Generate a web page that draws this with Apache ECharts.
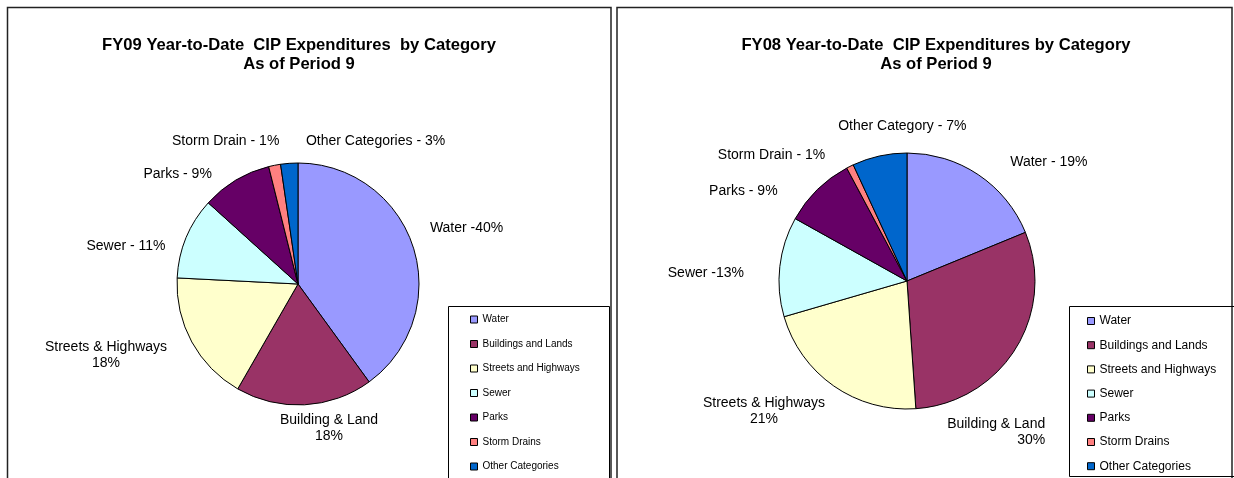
<!DOCTYPE html>
<html>
<head>
<meta charset="utf-8">
<script src="https://cdn.jsdelivr.net/npm/echarts@6.0.0/dist/echarts.min.js"></script>
<style>
html,body{margin:0;padding:0;background:#fff}
#chart{width:1234px;height:478px}
</style>
</head>
<body>
<div id="chart"></div>
<script>
var categories = ['Water', 'Buildings and Lands', 'Streets and Highways', 'Sewer', 'Parks', 'Storm Drains', 'Other Categories'];
var colors = ['#9999FF', '#993366', '#FFFFCC', '#CCFFFF', '#660066', '#FF8080', '#0066CC'];

var fy09Values = [40, 18.3, 17.5, 10.9, 9.4, 1.6, 2.3];
var fy09Labels = ['Water -40%', 'Building & Land\n18%', 'Streets & Highways\n18%', 'Sewer - 11%', 'Parks - 9%', 'Storm Drain - 1%', 'Other Categories - 3%'];

var fy08Values = [18.8, 30.1, 21.6, 12.6, 9.1, 0.9, 6.9];
var fy08Labels = ['Water - 19%', 'Building & Land\n30%', 'Streets & Highways\n21%', 'Sewer -13%', 'Parks - 9%', 'Storm Drain - 1%', 'Other Category - 7%'];

// nudges applied to the library's outside label spot (Excel puts them a bit differently)
var fy09Shift = [[44, -15], [24, 13], [-77, 8], [-51, 12], [-53, 2], [-47, -14], [87, -12]];
var fy08Shift = [[65, -4], [21, 78], [-64, 17], [-64, 8], [-67, 9], [-74, -2], [25, -20]];
var fy08Align = ['center', 'right', 'center', 'center', 'center', 'center', 'center'];

var font = '"Liberation Sans", Arial, sans-serif';

function pieData(values) {
    return values.map(function (v, i) {
        return {name: categories[i], value: v, itemStyle: {color: colors[i]}};
    });
}

function pieSeries(values, labels, shift, align, center, radius) {
    return {
        type: 'pie',
        center: center,
        radius: radius,
        startAngle: 90,
        clockwise: true,
        avoidLabelOverlap: false,
        animation: false,
        emphasis: {disabled: true},
        data: pieData(values),
        itemStyle: {borderColor: '#000', borderWidth: 1},
        label: {
            show: true,
            position: 'outside',
            distanceToLabelLine: 0,
            color: '#000',
            fontFamily: font,
            fontSize: 14,
            lineHeight: 16,
            formatter: function (p) { return labels[p.dataIndex]; }
        },
        labelLine: {show: false, length: 10, length2: 0},
        labelLayout: function (p) {
            var s = shift[p.dataIndex];
            return {dx: s[0], dy: s[1], align: align ? align[p.dataIndex] : 'center', verticalAlign: 'middle'};
        }
    };
}

function legend(left, top, gap, size) {
    return {
        orient: 'vertical',
        left: left,
        top: top,
        padding: 0,
        icon: 'rect',
        itemWidth: 7,
        itemHeight: 7,
        itemGap: gap,
        data: categories,
        selectedMode: false,
        itemStyle: {borderColor: '#000', borderWidth: 1},
        textStyle: {color: '#000', fontFamily: font, fontSize: size, lineHeight: 14}
    };
}

var titleStyle = {fontFamily: font, fontSize: 16.6, fontWeight: 'bold', color: '#000', lineHeight: 19};

var chart = echarts.init(document.getElementById('chart'));
chart.setOption({
    backgroundColor: '#fff',
    animation: false,
    title: [
        {
            text: 'FY09 Year-to-Date  CIP Expenditures  by Category\nAs of Period 9',
            left: 294, top: 31, textAlign: 'center',
            textStyle: titleStyle
        },
        {
            text: 'FY08 Year-to-Date  CIP Expenditures by Category\nAs of Period 9',
            left: 931, top: 31, textAlign: 'center',
            textStyle: titleStyle
        }
    ],
    legend: [
        legend(470, 312.5, 10.5, 10),
        legend(1087, 314, 10.2, 12)
    ],
    graphic: [
        {type: 'rect', shape: {x: 7.5, y: 7.5, width: 603.5, height: 500}, style: {fill: 'none', stroke: '#222', lineWidth: 1.5}, z: 100},
        {type: 'rect', shape: {x: 617, y: 7.5, width: 615, height: 500}, style: {fill: 'none', stroke: '#222', lineWidth: 1.5}, z: 100},
        {type: 'rect', shape: {x: 448.5, y: 306.5, width: 161, height: 200}, style: {fill: 'none', stroke: '#000', lineWidth: 1}, z: 100},
        {type: 'rect', shape: {x: 1069.5, y: 306.5, width: 170, height: 170}, style: {fill: 'none', stroke: '#000', lineWidth: 1}, z: 100}
    ],
    series: [
        pieSeries(fy09Values, fy09Labels, fy09Shift, null, [298, 284], 121),
        pieSeries(fy08Values, fy08Labels, fy08Shift, fy08Align, [907, 281], 128)
    ]
});
</script>
</body>
</html>
